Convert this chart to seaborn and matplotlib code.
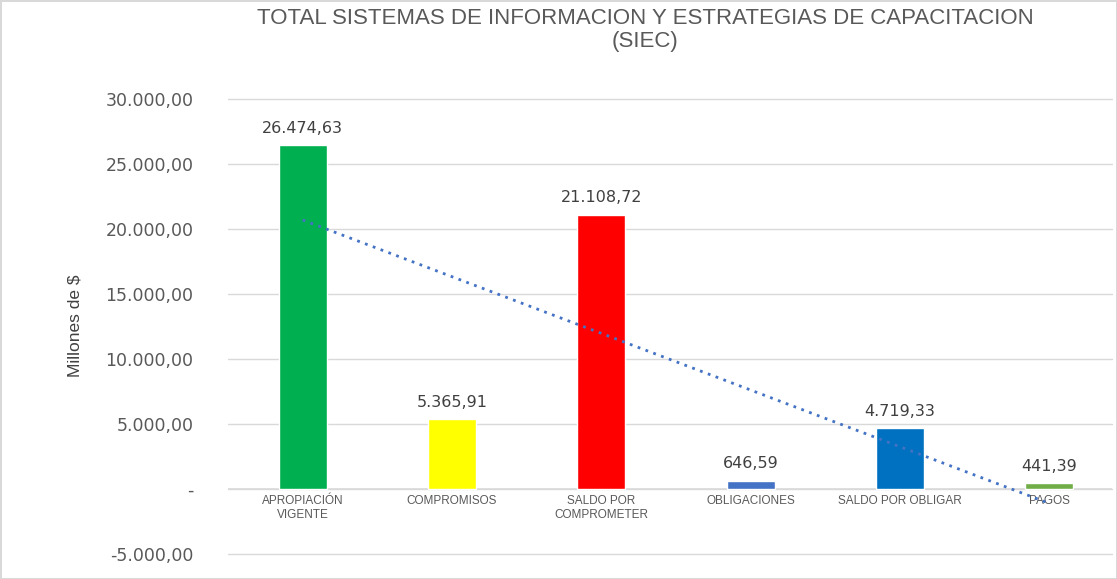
import numpy as np
import pandas as pd
import matplotlib
matplotlib.use("Agg")
import matplotlib.pyplot as plt
import seaborn as sns
from matplotlib.ticker import FixedLocator, FuncFormatter

categories = ["APROPIACIÓN\nVIGENTE", "COMPROMISOS", "SALDO POR\nCOMPROMETER",
              "OBLIGACIONES", "SALDO POR OBLIGAR", "PAGOS"]
values = [26474.63, 5365.91, 21108.72, 646.59, 4719.33, 441.39]
bar_colors = ["#00B050", "#FFFF00", "#FF0000", "#4472C4", "#0070C0", "#70AD47"]
y_ticks = [-5000, 0, 5000, 10000, 15000, 20000, 25000, 30000]
title = "TOTAL SISTEMAS DE INFORMACION Y ESTRATEGIAS DE CAPACITACION\n(SIEC)"
y_label = "Millones de $"

sns.set_theme(style="white")
plt.rcParams['font.family'] = ['DejaVu Sans']


def fmt_es(v):
    s = f"{abs(v):,.2f}".replace(",", "X").replace(".", ",").replace("X", ".")
    return ("-" if v < 0 else "") + s


fig = plt.figure(figsize=(11.17, 5.79), dpi=100)
fig.patch.set_facecolor("white")
fig.patch.set_edgecolor("#D9D9D9")
fig.patch.set_linewidth(2)
ax = fig.add_axes([228 / 1117, (579 - 554) / 579, (1112 - 228) / 1117, (554 - 99) / 579])

df = pd.DataFrame({"cat": categories, "val": values})
sns.barplot(data=df, x="cat", y="val", hue="cat", palette=bar_colors, legend=False,
            width=0.32, ax=ax, zorder=3, saturation=1)

# linear trend line
xs = np.arange(len(values))
coef = np.polyfit(xs, values, 1)
ax.plot(xs, np.polyval(coef, xs), linestyle=(0, (1, 2)), color="#4472C4",
        linewidth=2, zorder=4)

for i, v in enumerate(values):
    ax.text(i, v + 700, fmt_es(v), ha="center", va="bottom", fontsize=11.5,
            color="#404040", family=["DejaVu Sans"])

ax.set_ylim(-5000, 30000)
ax.set_xlim(-0.5, 5.42)
ax.yaxis.set_major_locator(FixedLocator(y_ticks))
ax.yaxis.set_major_formatter(FuncFormatter(lambda v, p: "-" if v == 0 else fmt_es(v)))
ax.grid(axis="y", color="#D9D9D9", linewidth=1, zorder=0)
for gl in ax.get_ygridlines():
    gl.set_clip_on(False)
ax.set_axisbelow(True)
for s in ax.spines.values():
    s.set_visible(False)
ax.axhline(0, color="#D9D9D9", linewidth=1.2, zorder=2)

ax.tick_params(axis="y", labelsize=12.5, colors="#595959", length=0, pad=25)
ax.tick_params(axis="x", length=0, pad=0)
ax.set_xticks(range(len(categories)))
ax.set_xticklabels([])
for i, c in enumerate(categories):
    ax.text(i, -500, c, ha="center", va="top", fontsize=8.5, color="#595959",
            family=["Liberation Sans", "DejaVu Sans"], linespacing=1.2)

ax.set_xlabel("")
ax.set_ylabel("")
fig.text(75 / 1117, 1 - 326 / 579, y_label, rotation=90, ha="center", va="center",
         fontsize=12.5, color="#404040", family=["Liberation Sans"])
fig.text(645 / 1117, 1 - 30 / 579, title, ha="center", va="center", fontsize=16,
         color="#595959", family=["Liberation Sans", "DejaVu Sans"], linespacing=1.15)

fig.savefig("out.png", dpi=100)
